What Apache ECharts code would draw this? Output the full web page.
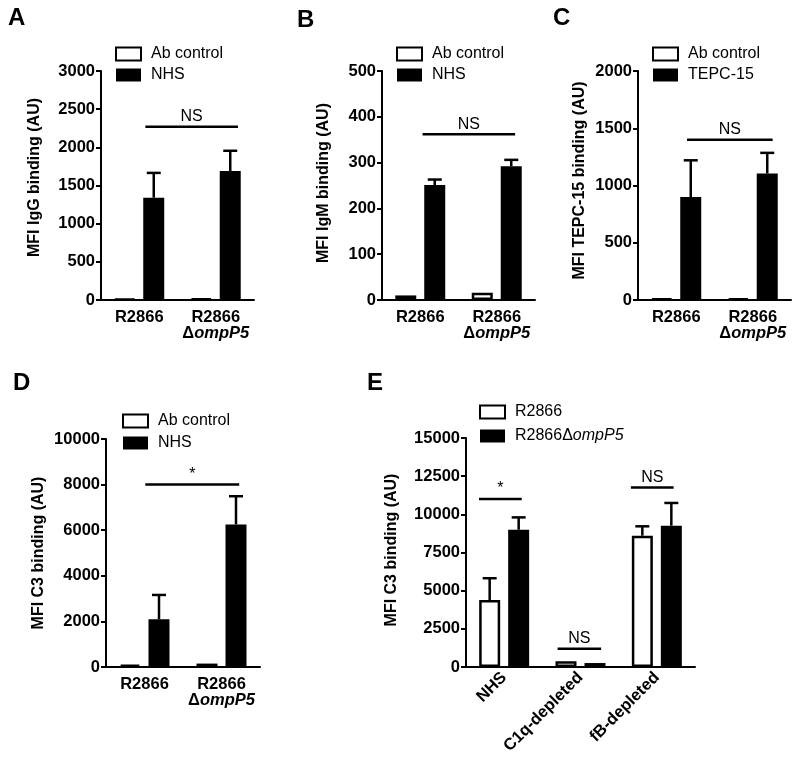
<!DOCTYPE html>
<html><head><meta charset="utf-8">
<script src="https://cdn.jsdelivr.net/npm/echarts@6/dist/echarts.min.js"></script>
<style>html,body{margin:0;padding:0;background:#fff}#c{width:800px;height:764px}</style>
</head><body><div id="c"></div>
<script>
// ---------- data ----------
const strains = ['R2866', 'R2866\nΔompP5'];
const sera = ['NHS', 'C1q-depleted', 'fB-depleted'];

// Panel A: IgG
const aCtrl = [15, 18];
const aNHS = [1340, 1690];
const aNHSsd = [325, 265];
// Panel B: IgM
const bCtrl = [10, 16];
const bNHS = [251, 292];
const bNHSsd = [12, 14];
// Panel C: TEPC-15
const cCtrl = [12, 15];
const cTEPC = [900, 1105];
const cTEPCsd = [320, 180];
// Panel D: C3
const dCtrl = [100, 150];
const dNHS = [2090, 6250];
const dNHSsd = [1070, 1240];
// Panel E: C3 with depleted sera
const eWT = [4390, 380, 8600];
const eWTsd = [1425, 0, 615];
const eMut = [8990, 260, 9255];
const eMutsd = [810, 0, 1490];

// axes (max / tick step) for A..E
const yMax = [3000, 500, 2000, 10000, 15000];
const yStep = [500, 100, 500, 2000, 2500];
const yTitles = ['MFI IgG binding (AU)', 'MFI IgM binding (AU)', 'MFI TEPC-15 binding (AU)', 'MFI C3 binding (AU)', 'MFI C3 binding (AU)'];

// significance annotations (level in data units, label)
const sigA = [2270], sigAText = ['NS'];
const sigB = [362], sigBText = ['NS'];
const sigC = [1400], sigCText = ['NS'];
const sigD = [8000], sigDText = ['*'];
const sigE = [11000, 1200, 11750], sigEText = ['*', 'NS', 'NS'];

// ---------- layout ----------
const FONT = '"Liberation Sans", Arial, sans-serif';
const grids = [
  {left: 101, top: 71, width: 153, height: 229},
  {left: 382, top: 71, width: 153, height: 229},
  {left: 638, top: 71, width: 153, height: 229},
  {left: 106, top: 439, width: 154, height: 228},
  {left: 466, top: 438, width: 229, height: 229}
];
const nameGaps = [58, 50, 50, 59, 66];
const namePads = [[0, 0, 0, 16], [0, 0, 0, 5], [0, 0, 0, 10], [0, 0, 0, 0], [0, 0, 0, 5]];
const BW = 21, GAP = 8, OFF = (BW + GAP) / 2;

const chart = echarts.init(document.getElementById('c'));

function catFormatter(v) {
  const parts = v.split('\n');
  if (parts.length === 1) return '{b|' + parts[0] + '}';
  return '{b|' + parts[0] + '}\n{d|Δ}{i|' + parts[1].replace('Δ', '') + '}';
}
const richCat = {
  b: {fontFamily: FONT, fontWeight: 'bold', fontSize: 16.5, color: '#000', lineHeight: 16},
  d: {fontFamily: FONT, fontWeight: 'bold', fontSize: 16.5, color: '#000', lineHeight: 16},
  i: {fontFamily: FONT, fontWeight: 'bold', fontStyle: 'italic', fontSize: 16.5, color: '#000', lineHeight: 16}
};

const xAxes = grids.map((g, gi) => ({
  type: 'category', gridIndex: gi,
  data: gi === 4 ? sera : strains,
  axisLine: {lineStyle: {color: '#000', width: 2}},
  axisTick: {alignWithLabel: true, length: 6, lineStyle: {color: '#000', width: 2}},
  axisLabel: gi === 4 ? {
    interval: 0, rotate: 45, margin: 8, color: '#000', fontFamily: FONT, fontWeight: 'bold', fontSize: 16.5
  } : {
    interval: 0, margin: 9, formatter: catFormatter, rich: richCat, color: '#000'
  }
}));
const yAxes = grids.map((g, gi) => ({
  type: 'value', gridIndex: gi, min: 0, max: yMax[gi], interval: yStep[gi],
  name: yTitles[gi], nameLocation: 'middle', nameGap: nameGaps[gi],
  nameTextStyle: {fontFamily: FONT, fontWeight: 'bold', fontSize: 16, color: '#000', padding: namePads[gi]},
  axisLine: {show: true, lineStyle: {color: '#000', width: 2}},
  axisTick: {show: true, length: 5, lineStyle: {color: '#000', width: 2}},
  axisLabel: {margin: 6, color: '#000', fontFamily: FONT, fontWeight: 'bold', fontSize: 16.5,
    formatter: v => String(v)},
  splitLine: {show: false}
}));

const whiteStyle = {color: '#fff', borderColor: '#000', borderWidth: 2.5};
const blackStyle = {color: '#000', borderColor: '#000', borderWidth: 0};

function barSeries(name, gi, data, white) {
  return {
    type: 'bar', name: name, xAxisIndex: gi, yAxisIndex: gi, data: data,
    barWidth: BW, barGap: (GAP / BW * 100).toFixed(0) + '%',
    itemStyle: white ? whiteStyle : blackStyle, silent: true
  };
}
function errSeries(gi, means, sds, side) {
  return {
    type: 'custom', name: 'err' + gi + side, xAxisIndex: gi, yAxisIndex: gi, silent: true, z: 3,
    data: means.map((m, i) => [i, m + sds[i]]),
    renderItem: function (params, api) {
      const i = params.dataIndex;
      if (!sds[i]) return null;
      const pm = api.coord([i, means[i]]);
      const pt = api.coord([i, means[i] + sds[i]]);
      const x = pm[0] + side * OFF;
      return {type: 'group', children: [
        {type: 'line', shape: {x1: x, y1: pm[1], x2: x, y2: pt[1]}, style: {stroke: '#000', lineWidth: 2.5}},
        {type: 'line', shape: {x1: x - 7, y1: pt[1], x2: x + 7, y2: pt[1]}, style: {stroke: '#000', lineWidth: 2.5}}
      ]};
    }
  };
}
// spans for significance bars: [fromCat, fromFrac, toCat, toFrac] in band units
function sigSeries(gi, levels, texts, spans) {
  return {
    type: 'custom', name: 'sig' + gi, xAxisIndex: gi, yAxisIndex: gi, silent: true, z: 4,
    data: levels.map((l, i) => [spans[i][0], l]),
    renderItem: function (params, api) {
      const i = params.dataIndex, s = spans[i];
      const band = api.size([1, 0])[0];
      const p0 = api.coord([s[0], levels[i]]);
      const p1 = api.coord([s[2], levels[i]]);
      const x0 = p0[0] + s[1] * band, x1 = p1[0] + s[3] * band, y = p0[1];
      return {type: 'group', children: [
        {type: 'line', shape: {x1: x0, y1: y, x2: x1, y2: y}, style: {stroke: '#000', lineWidth: 2.5}},
        {type: 'text', x: (x0 + x1) / 2, y: y - 2, style: {text: texts[i], fill: '#000', font: '16px ' + FONT, textAlign: 'center', textVerticalAlign: 'bottom'}}
      ]};
    }
  };
}

const series = [
  barSeries('Ab control', 0, aCtrl, true), barSeries('NHS', 0, aNHS, false), errSeries(0, aNHS, aNHSsd, 1),
  sigSeries(0, sigA, sigAText, [[0, 0.08, 1, 0.29]]),
  barSeries('Ab control', 1, bCtrl, true), barSeries('NHS', 1, bNHS, false), errSeries(1, bNHS, bNHSsd, 1),
  sigSeries(1, sigB, sigBText, [[0, 0.03, 1, 0.24]]),
  barSeries('Ab control', 2, cCtrl, true), barSeries('TEPC-15', 2, cTEPC, false), errSeries(2, cTEPC, cTEPCsd, 1),
  sigSeries(2, sigC, sigCText, [[0, 0.14, 1, 0.26]]),
  barSeries('Ab control', 3, dCtrl, true), barSeries('NHS', 3, dNHS, false), errSeries(3, dNHS, dNHSsd, 1),
  sigSeries(3, sigD, sigDText, [[0, 0.01, 1, 0.23]]),
  barSeries('R2866', 4, eWT, true), barSeries('R2866ΔompP5', 4, eMut, false),
  errSeries(4, eWT, eWTsd, -1), errSeries(4, eMut, eMutsd, 1),
  sigSeries(4, sigE, sigEText, [[0, -0.33, 0, 0.23], [1, -0.3, 1, 0.27], [2, -0.34, 2, 0.22]])
];

function legend(left, top, names, gap) {
  return {
    left: left, top: top, padding: 0, orient: 'vertical', data: names.map(n => ({name: n, icon: 'rect'})),
    itemWidth: 25, itemHeight: 13, itemGap: gap, selectedMode: false,
    formatter: n => n === 'R2866ΔompP5' ? '{n|R2866Δ}{i|ompP5}' : '{n|' + n + '}',
    textStyle: {color: '#000', fontFamily: FONT, fontSize: 16, padding: [0, 0, 0, 5],
      rich: {n: {fontFamily: FONT, fontSize: 16, color: '#000'},
             i: {fontFamily: FONT, fontSize: 16, fontStyle: 'italic', color: '#000'}}}
  };
}

const letters = [['A', 8, 6], ['B', 297, 8], ['C', 553, 6], ['D', 13, 371], ['E', 367, 371]];

chart.setOption({
  animation: false,
  backgroundColor: '#fff',
  grid: grids,
  xAxis: xAxes,
  yAxis: yAxes,
  legend: [
    legend(115, 46, ['Ab control', 'NHS'], 5),
    legend(396, 46, ['Ab control', 'NHS'], 5),
    legend(652, 46, ['Ab control', 'TEPC-15'], 5),
    legend(122, 413, ['Ab control', 'NHS'], 6),
    legend(479, 404, ['R2866', 'R2866ΔompP5'], 8)
  ],
  graphic: letters.map(l => ({
    type: 'text', left: l[1], top: l[2],
    style: {text: l[0], font: 'bold 24px ' + FONT, fill: '#000'}
  })),
  series: series
});
</script></body></html>
